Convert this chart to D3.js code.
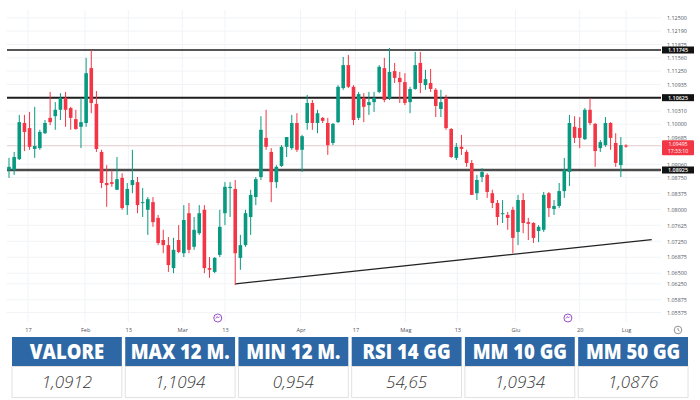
<!DOCTYPE html>
<html>
  <head>
    <title>EUR/USD candles</title>
    <script src="https://d3js.org/d3.v7.min.js"></script>
    <style>
      body { margin: 0; background: #fff; }
      svg { display: block; font-family: "Open Sans", sans-serif; }
    </style>
  </head>
  <body>
    <svg width="700" height="400"></svg>
    <script>
      // daily candles
      const open = [1.0893,1.0893,1.0918,1.1003,1.0991,1.0942,1.0944,1.0979,1.1015,1.1019,
        1.1034,1.1062,1.1038,1.1012,1.0994,1.1003,1.1132,1.1048,1.0935,1.0862,
        1.0864,1.0846,1.0874,1.0810,1.0857,1.0864,1.0815,1.0799,1.0817,1.0780,
        1.0728,1.0716,1.0662,1.0728,1.0697,1.0791,1.0712,1.0744,1.0799,1.0662,
        1.0653,1.0693,1.0791,1.0850,1.0848,1.0686,1.0716,1.0782,1.0829,1.0876,
        1.0968,1.0935,1.0864,1.0902,1.0947,1.0944,1.1003,1.0940,1.1003,1.1050,
        1.1003,1.1015,1.1003,1.0956,1.1005,1.1085,1.1139,1.1088,1.1015,1.1062,
        1.1045,1.1052,1.1076,1.1132,1.1062,1.1125,1.1109,1.1099,1.1052,1.1083,
        1.1144,1.1092,1.1097,1.1081,1.1036,1.1062,1.0989,1.0921,1.0947,1.0935,
        1.0909,1.0838,1.0876,1.0881,1.0838,1.0815,1.0789,1.0787,1.0799,1.0747,
        1.0822,1.0770,1.0768,1.0749,1.0752,1.0838,1.0801,1.0808,1.0843,1.0888,
        1.0994,1.0991,1.0965,1.1034,1.1001,1.0944,1.0951,1.1003,1.0956,1.0904,
        1.0950];
      const high = [1.0921,1.0935,1.1022,1.1022,1.1029,1.1041,1.0987,1.1010,1.1076,1.1052,
        1.1073,1.1076,1.1041,1.1034,1.1062,1.1156,1.1175,1.1078,1.0940,1.0904,
        1.0893,1.0923,1.0885,1.0862,1.0940,1.0876,1.0850,1.0829,1.0829,1.0787,
        1.0752,1.0735,1.0733,1.0763,1.0810,1.0815,1.0782,1.0810,1.0810,1.0688,
        1.0688,1.0799,1.0864,1.0864,1.0869,1.0740,1.0799,1.0846,1.0876,1.1019,
        1.1034,1.0944,1.0904,1.0951,1.0970,1.1022,1.1026,1.0975,1.1069,1.1057,
        1.1034,1.1017,1.1015,1.1003,1.1092,1.1158,1.1163,1.1092,1.1076,1.1073,
        1.1076,1.1076,1.1139,1.1156,1.1179,1.1144,1.1123,1.1120,1.1088,1.1170,
        1.1170,1.1128,1.1130,1.1085,1.1081,1.1069,1.0991,1.0956,1.0975,1.0940,
        1.0916,1.0881,1.0897,1.0885,1.0846,1.0822,1.0822,1.0794,1.0806,1.0834,
        1.0838,1.0780,1.0770,1.0763,1.0841,1.0841,1.0822,1.0862,1.0921,1.1022,
        1.1019,1.1017,1.1038,1.1062,1.1003,1.0963,1.1017,1.1005,1.0979,1.0970,
        1.0953];
      const low = [1.0874,1.0881,1.0916,1.0937,1.0940,1.0921,1.0940,1.0977,1.0998,1.0987,
        1.1010,1.0994,1.0987,1.0987,1.0944,1.0994,1.1026,1.0935,1.0850,1.0806,
        1.0853,1.0846,1.0799,1.0787,1.0838,1.0791,1.0782,1.0740,1.0759,1.0716,
        1.0697,1.0653,1.0650,1.0697,1.0688,1.0697,1.0705,1.0740,1.0650,1.0639,
        1.0650,1.0688,1.0763,1.0782,1.0622,1.0658,1.0712,1.0740,1.0810,1.0869,
        1.0940,1.0817,1.0850,1.0900,1.0923,1.0940,1.0935,1.0888,1.0987,1.0987,
        1.0979,1.1003,1.0928,1.0951,1.1003,1.1081,1.1085,1.0998,1.1010,1.1005,
        1.1022,1.1029,1.1073,1.1052,1.1057,1.1097,1.1050,1.1045,1.1026,1.1081,
        1.1073,1.1081,1.1076,1.1017,1.1017,1.0987,1.0921,1.0916,1.0928,1.0900,
        1.0834,1.0822,1.0864,1.0827,1.0803,1.0763,1.0768,1.0752,1.0697,1.0716,
        1.0744,1.0728,1.0721,1.0723,1.0747,1.0782,1.0787,1.0803,1.0827,1.0855,
        1.0956,1.0944,1.0963,1.0998,1.0900,1.0935,1.0947,1.0940,1.0900,1.0876,
        1.0945];
      const close = [1.0900,1.0923,1.1005,1.0982,1.0947,1.0949,1.0982,1.1003,1.1005,1.1034,
        1.1062,1.1034,1.1015,1.0989,1.1005,1.1120,1.1050,1.0942,1.0862,1.0857,
        1.0860,1.0871,1.0803,1.0848,1.0869,1.0810,1.0817,1.0824,1.0770,1.0721,
        1.0716,1.0669,1.0705,1.0700,1.0775,1.0705,1.0752,1.0791,1.0662,1.0658,
        1.0686,1.0759,1.0853,1.0853,1.0697,1.0716,1.0791,1.0834,1.0871,1.0987,
        1.0947,1.0864,1.0900,1.0947,1.0970,1.1003,1.0940,1.0972,1.1050,1.1003,
        1.1026,1.1008,1.0951,1.1001,1.1088,1.1139,1.1088,1.1010,1.1071,1.1041,
        1.1052,1.1062,1.1135,1.1057,1.1123,1.1109,1.1099,1.1050,1.1083,1.1139,
        1.1097,1.1106,1.1083,1.1043,1.1052,1.0991,1.0923,1.0947,1.0942,1.0909,
        1.0834,1.0869,1.0888,1.0841,1.0815,1.0782,1.0791,1.0780,1.0733,1.0822,
        1.0768,1.0766,1.0733,1.0759,1.0834,1.0803,1.0808,1.0843,1.0893,1.1003,
        1.0968,1.0968,1.1034,1.1003,1.0937,1.0958,1.1003,1.0968,1.0909,1.0951,
        1.09495];

      const yTicks = [1.12500,1.12190,1.11875,1.11560,1.11250,1.10935,1.10310,1.10000,
        1.09685,1.09060,1.08750,1.08375,1.08000,1.07625,1.07250,1.06875,1.06500,
        1.06250,1.05875,1.05575];
      const xTickLabels = ["17","Feb","13","Mar","13","Apr","17","Mag","13","Giu","20","Lug"];
      const xTickIndex = [3.7,14.8,23.2,33.7,42,56.7,67.4,77.1,87.2,98.5,111,120];
      const eventIndex = [40.6,108.7];

      const levels = [1.11745,1.10625,1.08925];
      const levelWidth = [1.3,2,2.6];
      const levelColor = ["#1e1e1e","#1e1e1e","#4a4a4a"];
      const trendIndex = [44,125];
      const trendPrice = [1.0625,1.0729];
      const lastPrice = 1.09495;
      const lastTime = "17:33:10";

      const headers = ["VALORE","MAX 12 M.","MIN 12 M.","RSI 14 GG","MM 10 GG","MM 50 GG"];
      const values = ["1,0912","1,1094","0,954","54,65","1,0934","1,0876"];

      const svg = d3.select("svg");
      const fmt = d3.format(".5f");

      const x = d3.scaleLinear().domain([0, 120]).range([9, 626]);
      const y = d3.scaleLinear().domain([1.05518, 1.1292]).range([315, 0]);
      const plotLeft = 7, plotRight = 661;

      function grid(g){
        g.selectAll(".hg").data(yTicks).join("line").attr("class","hg")
          .attr("x1", plotLeft).attr("x2", plotRight)
          .attr("y1", d => y(d)).attr("y2", d => y(d))
          .attr("stroke", "#f1f3f6");
        g.selectAll(".vg").data(xTickIndex).join("line").attr("class","vg")
          .attr("x1", d => x(d)).attr("x2", d => x(d))
          .attr("y1", 10).attr("y2", 322)
          .attr("stroke", "#f1f3f6");
      }

      function candles(g){
        const data = open.map((o, i) => ({i, o, h: high[i], l: low[i], c: close[i]}));
        const bw = 3.6;
        const col = d => d.c >= d.o ? "#089981" : "#f23645";
        const c = g.selectAll("g.candle").data(data).join("g").attr("class","candle");
        c.append("line")
          .attr("x1", d => x(d.i)).attr("x2", d => x(d.i))
          .attr("y1", d => y(d.h)).attr("y2", d => y(d.l))
          .attr("stroke", col).attr("stroke-width", 1);
        c.append("rect")
          .attr("x", d => x(d.i) - bw / 2).attr("width", bw)
          .attr("y", d => y(Math.max(d.o, d.c)))
          .attr("height", d => Math.max(1, Math.abs(y(d.o) - y(d.c))))
          .attr("fill", col);
      }

      svg.append("g").call(grid);

      // last price line
      svg.append("line")
        .attr("x1", plotLeft).attr("x2", plotRight)
        .attr("y1", y(lastPrice)).attr("y2", y(lastPrice))
        .attr("stroke", "#e4c9cc").attr("stroke-width", 1);

      svg.selectAll(".level").data(levels).join("line").attr("class","level")
        .attr("x1", plotLeft).attr("x2", plotRight)
        .attr("y1", d => y(d)).attr("y2", d => y(d))
        .attr("stroke", (d, i) => levelColor[i])
        .attr("stroke-width", (d, i) => levelWidth[i]);

      svg.append("line")
        .attr("x1", x(trendIndex[0])).attr("y1", y(trendPrice[0]))
        .attr("x2", x(trendIndex[1])).attr("y2", y(trendPrice[1]))
        .attr("stroke", "#222").attr("stroke-width", 1.4);

      svg.append("g").call(candles);

      // price axis
      const yAxis = svg.append("g")
        .attr("transform", "translate(666,0)")
        .call(d3.axisRight(y).tickValues(yTicks).tickFormat(fmt).tickSize(0).tickPadding(1));
      yAxis.select(".domain").remove();
      yAxis.selectAll("text").attr("font-size", 5.4).attr("fill", "#50535e")
        .attr("font-family", "Open Sans, sans-serif");

      // level tags
      const tags = svg.selectAll(".tag").data(levels).join("g").attr("class","tag")
        .attr("transform", d => `translate(662,${y(d)})`);
      tags.append("rect").attr("x", 0).attr("y", -3.5).attr("width", 32).attr("height", 7)
        .attr("fill", "#131313");
      tags.append("text").attr("x", 16).attr("y", 2).attr("text-anchor", "middle")
        .attr("font-size", 5.4).attr("font-weight", 600).attr("fill", "#fff").text(d => fmt(d));

      const pt = svg.append("g").attr("transform", `translate(662,${y(lastPrice)})`);
      pt.append("rect").attr("x", 0).attr("y", -5.5).attr("width", 32).attr("height", 15)
        .attr("rx", 1).attr("fill", "#f23645");
      pt.append("text").attr("x", 16).attr("y", 0).attr("text-anchor", "middle")
        .attr("font-size", 5.2).attr("fill", "#fff").text(fmt(lastPrice));
      pt.append("text").attr("x", 16).attr("y", 7.6).attr("text-anchor", "middle")
        .attr("font-size", 5.2).attr("fill", "#fff").text(lastTime);

      // time axis
      const xAxis = svg.append("g")
        .attr("transform", "translate(0,328)")
        .call(d3.axisBottom(x).tickValues(xTickIndex)
          .tickFormat((d, i) => xTickLabels[i]).tickSize(0).tickPadding(0));
      xAxis.select(".domain").remove();
      xAxis.selectAll("text").attr("font-size", 5.6).attr("fill", "#50535e")
        .attr("font-family", "Open Sans, sans-serif");

      const ev = svg.selectAll(".ev").data(eventIndex).join("g").attr("class","ev")
        .attr("transform", d => `translate(${x(d)},318)`);
      ev.append("circle").attr("r", 4).attr("fill", "#fff").attr("stroke", "#9b4dca").attr("stroke-width", 1);
      ev.append("path").attr("d", "M-2,0.5 L-0.5,-1.5 L0.5,0 L2,-1.5").attr("fill", "none")
        .attr("stroke", "#9b4dca").attr("stroke-width", 0.8);

      const clock = svg.append("g").attr("transform", "translate(678,330)");
      clock.append("circle").attr("r", 3.8).attr("fill", "none").attr("stroke", "#777").attr("stroke-width", 0.8);
      clock.append("path").attr("d", "M0,-2 L0,0 L1.6,1").attr("fill", "none").attr("stroke", "#777").attr("stroke-width", 0.8);

      // summary table
      const col = d3.scaleBand().domain(headers).range([12, 688]).paddingInner(0.03);
      const cells = svg.selectAll(".cell").data(headers).join("g").attr("class","cell")
        .attr("transform", d => `translate(${col(d)},0)`);
      cells.append("rect").attr("y", 337).attr("width", col.bandwidth()).attr("height", 29)
        .attr("fill", "#2d67a5");
      cells.append("text")
        .attr("transform", `translate(${col.bandwidth() / 2},359) scale(0.88,1)`)
        .attr("text-anchor", "middle").attr("font-size", 21).attr("font-weight", 800)
        .attr("fill", "#fff").text(d => d);
      cells.append("rect").attr("y", 366.5).attr("width", col.bandwidth()).attr("height", 31)
        .attr("fill", "#fff").attr("stroke", "#e2e2e2");
      cells.append("text")
        .attr("x", col.bandwidth() / 2).attr("y", 388)
        .attr("text-anchor", "middle").attr("font-size", 17).attr("font-style", "italic")
        .attr("font-weight", 300).attr("fill", "#3a3a3a")
        .text((d, i) => values[i]);
    </script>
  </body>
</html>
